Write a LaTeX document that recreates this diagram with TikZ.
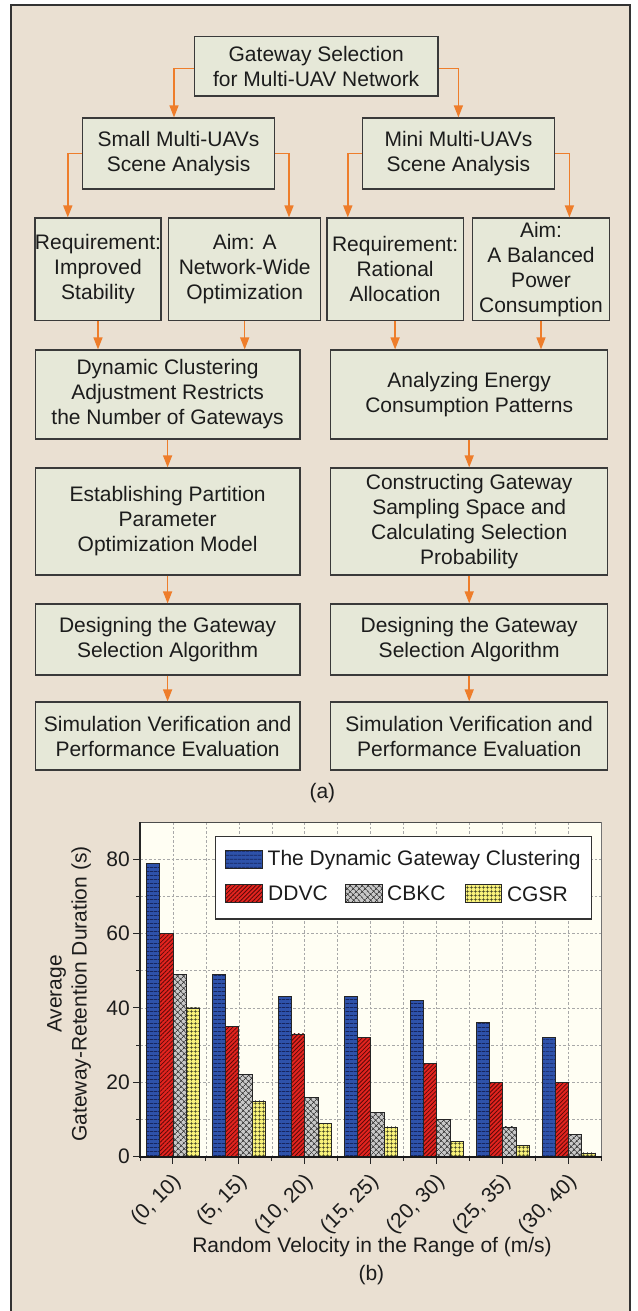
\documentclass[tikz,border=0pt]{standalone}
\usepackage{fontspec}
\setmainfont{Liberation Sans}
\usetikzlibrary{arrows.meta,patterns.meta}
\definecolor{bgc}{HTML}{EAE0D2}
\definecolor{framec}{HTML}{333333}
\definecolor{boxfill}{HTML}{E6E8D8}
\definecolor{boxline}{HTML}{3A3A3A}
\definecolor{arrc}{HTML}{EE7D2B}
\definecolor{txt}{HTML}{1C1C1C}
\definecolor{plotbg}{HTML}{FFFEF3}
\definecolor{gridc}{HTML}{A8A8A8}
\definecolor{cblue}{HTML}{2E52AA}
\definecolor{cblueline}{HTML}{16255E}
\definecolor{cred}{HTML}{E3241F}
\definecolor{credline}{HTML}{5A0A08}
\definecolor{cgray}{HTML}{C8C8C8}
\definecolor{cgrayline}{HTML}{3A3A3A}
\definecolor{cyel}{HTML}{F8F27A}
\definecolor{cyelline}{HTML}{3A3A20}
\begin{document}
\begin{tikzpicture}[x=1pt,y=-1pt,
  font=\fontsize{21}{25}\selectfont, text=txt,
  fbox/.style={draw=boxline, line width=1.2pt, fill=boxfill, align=center, inner sep=0pt},
  arr/.style={draw=arrc, line width=1.5pt, -{Triangle[length=12pt,width=9pt]}},
  gridl/.style={draw=gridc, line width=0.7pt, dash pattern=on 2.5pt off 2pt},
  barA/.style={fill=cblue, postaction={pattern={Lines[angle=0,distance=4pt,line width=0.9pt]}, pattern color=cblueline}, postaction={draw=black!85, line width=0.8pt}},
  barB/.style={fill=cred, postaction={pattern={Lines[angle=45,distance=3pt,line width=0.8pt]}, pattern color=credline}, postaction={draw=black!85, line width=0.8pt}},
  barC/.style={fill=cgray, postaction={pattern={Hatch[angle=45,distance=4pt,line width=0.8pt]}, pattern color=cgrayline}, postaction={draw=black!85, line width=0.8pt}},
  barD/.style={fill=cyel, postaction={pattern={Hatch[angle=0,distance=4pt,line width=0.7pt]}, pattern color=cyelline}, postaction={draw=black!85, line width=0.8pt}},
  lab/.style={inner sep=0pt}
  ]
\useasboundingbox (0,0) rectangle (637,1311);
\fill[white] (0,0) rectangle (637,1311);
\draw[fill=bgc, draw=framec, line width=1.5pt] (11,5) rectangle (630,1340);

% ---------- flowchart ----------
\node[fbox, minimum width=243.7pt, minimum height=59.3pt] (top) at (316.2,66.4) {Gateway Selection\\for Multi-UAV Network};
\node[fbox, minimum width=192.3pt, minimum height=71pt] (small) at (178.6,153.5) {Small Multi-UAVs\\Scene Analysis};
\node[fbox, minimum width=191.9pt, minimum height=71pt] (mini) at (458.4,153.5) {Mini Multi-UAVs\\Scene Analysis};

\node[fbox, minimum width=125.7pt, minimum height=102.7pt] (r1) at (98,269.4) {Requirement:\\Improved\\Stability};
\node[fbox, minimum width=152.2pt, minimum height=102.7pt] (r2) at (244.7,269.4) {Aim: A\\Network-Wide\\Optimization};
\node[fbox, minimum width=136.4pt, minimum height=102.7pt] (r3) at (395.1,269.4) {Requirement:\\Rational\\Allocation};
\node[fbox, minimum width=137.6pt, minimum height=102.7pt] (r4) at (541,269.4) {Aim:\\A Balanced\\Power\\Consumption};

\node[fbox, minimum width=264.9pt, minimum height=89pt] (L4) at (167.6,394.5) {Dynamic Clustering\\Adjustment Restricts\\the Number of Gateways};
\node[fbox, minimum width=277.2pt, minimum height=89pt] (R4) at (469.2,394.5) {Analyzing Energy\\Consumption Patterns};

\node[fbox, minimum width=264.9pt, minimum height=107pt] (L5) at (167.6,521.5) {Establishing Partition\\Parameter\\Optimization Model};
\node[fbox, minimum width=277.2pt, minimum height=107pt] (R5) at (469.2,521.5) {Constructing Gateway\\Sampling Space and\\Calculating Selection\\Probability};

\node[fbox, minimum width=264.9pt, minimum height=71pt] (L6) at (167.6,639.5) {Designing the Gateway\\Selection Algorithm};
\node[fbox, minimum width=277.2pt, minimum height=71pt] (R6) at (469.2,639.5) {Designing the Gateway\\Selection Algorithm};

\node[fbox, minimum width=264.9pt, minimum height=68pt] (L7) at (167.6,736) {Simulation Verification and\\Performance Evaluation};
\node[fbox, minimum width=277.2pt, minimum height=68pt] (R7) at (469.2,736) {Simulation Verification and\\Performance Evaluation};

\node[lab] (capa) at (322.4,792.7) {(a)};

\draw[arr] ([yshift=-2pt]top.west) -| ([xshift=-4.6pt]small.north);
\draw[arr] ([yshift=-2pt]top.east) -| (mini.north);
\draw[arr] (small.west) -| ([xshift=-30.2pt]r1.north);
\draw[arr] (small.east) -| ([xshift=44.3pt]r2.north);
\draw[arr] (mini.west) -| ([xshift=-47.3pt]r3.north);
\draw[arr] (mini.east) -| ([xshift=28.4pt]r4.north);
\draw[arr] (r1.south) -- (r1.south |- L4.north);
\draw[arr] (r2.south) -- (r2.south |- L4.north);
\draw[arr] (r3.south) -- (r3.south |- R4.north);
\draw[arr] (r4.south) -- (r4.south |- R4.north);
\draw[arr] (L4.south) -- (L5.north);
\draw[arr] (L5.south) -- (L6.north);
\draw[arr] (L6.south) -- (L7.north);
\draw[arr] (R4.south) -- (R5.north);
\draw[arr] (R5.south) -- (R6.north);
\draw[arr] (R6.south) -- (R7.north);

% ---------- chart ----------
\fill[plotbg] (140,822.3) rectangle (601.5,1156.7);
\foreach \v in {10,20,...,80} {
  \draw[gridl] (140,{1156.7-\v*3.719}) -- (601.5,{1156.7-\v*3.719});
}
\foreach \k in {1,1.5,...,7} {
  \draw[gridl] ({140+(\k-0.5)*65.93},822.3) -- ({140+(\k-0.5)*65.93},1156.7);
}
\foreach \g/\va/\vb/\vc/\vd in {1/79/60/49/40, 2/49/35/22/15, 3/43/33/16/9, 4/43/32/12/8, 5/42/25/10/4, 6/36/20/8/3, 7/32/20/6/1} {
  \pgfmathsetmacro\cx{140+(\g-0.5)*65.93}
  \path[barA] ({\cx-26.6},1156.7) rectangle ({\cx-13.3},{1156.7-\va*3.719});
  \path[barB] ({\cx-13.3},1156.7) rectangle ({\cx},{1156.7-\vb*3.719});
  \path[barC] ({\cx},1156.7) rectangle ({\cx+13.3},{1156.7-\vc*3.719});
  \path[barD] ({\cx+13.3},1156.7) rectangle ({\cx+26.6},{1156.7-\vd*3.719});
}
% borders and axes
\draw[draw=black!70, line width=1pt] (140,822.3) -- (601.5,822.3);
\draw[draw=black!55, line width=1pt] (601.5,822.3) -- (601.5,1156.7);
\draw[draw=black!85, line width=1.5pt] (140,822.3) -- (140,1157.5);
\foreach \v in {0,20,...,80} {
  \draw[draw=black!85, line width=1pt] (133,{1156.7-\v*3.719}) -- (140,{1156.7-\v*3.719});
  \node[lab, anchor=east] (yt\v) at (130,{1156.7-\v*3.719}) {\v};
}
\foreach \v in {10,30,...,70} {
  \draw[draw=black!85, line width=1pt] (136,{1156.7-\v*3.719}) -- (140,{1156.7-\v*3.719});
}
\foreach \k in {0.5,1.5,...,7.5} {
  \draw[draw=black!85, line width=1pt] ({140+(\k-0.5)*65.93},1156.7) -- ({140+(\k-0.5)*65.93},1161);
}
\foreach \g/\t in {1/{(0, 10)},2/{(5, 15)},3/{(10, 20)},4/{(15, 25)},5/{(20, 30)},6/{(25, 35)},7/{(30, 40)}} {
  \draw[draw=black!85, line width=1pt] ({140+(\g-0.5)*65.93},1156.7) -- ({140+(\g-0.5)*65.93},1163.5);
  \node[lab, rotate=45, anchor=east] (xt\g) at ({140+(\g-0.5)*65.93+5},1179) {\t};
}
\draw[draw=black!90, line width=2pt] (139.3,1156.7) -- (601.5,1156.7);

% legend
\draw[fill=white, draw=black!80, line width=1.3pt] (215.8,836.7) rectangle (591.5,919);
\path[barA] (225.5,850.7) rectangle (262,868.7);
\node[lab, anchor=west] (lg1) at (267.5,859.7) {The Dynamic Gateway Clustering};
\path[barB] (225.5,884) rectangle (262,902.3);
\node[lab, anchor=west] (lg2) at (268,893.5) {DDVC};
\path[barC] (345.5,884) rectangle (382.5,902.3);
\node[lab, anchor=west] (lg3) at (387,893.5) {CBKC};
\path[barD] (465,884) rectangle (501.4,902.3);
\node[lab, anchor=west] (lg4) at (506.8,894.5) {CGSR};

% labels
\node[lab, rotate=90, align=center] (ylab) at (69,994) {Average\\Gateway-Retention Duration (s)};
\node[lab] (xlab) at (372,1247) {Random Velocity in the Range of (m/s)};
\node[lab] (capb) at (371.4,1275) {(b)};
\end{tikzpicture}
\end{document}
